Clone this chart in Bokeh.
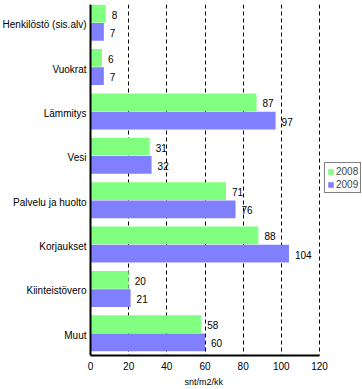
from bokeh.plotting import figure
from bokeh.models import (ColumnDataSource, Range1d, FixedTicker, Legend,
                          LegendItem, Span, Title)
from bokeh.core.properties import value
from bokeh.embed import file_html
from bokeh.resources import INLINE

categories = ["Henkilöstö (sis.alv)", "Vuokrat", "Lämmitys", "Vesi",
              "Palvelu ja huolto", "Korjaukset", "Kiinteistövero", "Muut"]
values_2008 = [8, 6, 87, 31, 71, 88, 20, 58]
values_2009 = [7, 7, 97, 32, 76, 104, 21, 60]
series_names = ["2008", "2009"]
x_ticks = [0, 20, 40, 60, 80, 100, 120]
x_label = "snt/m2/kk"

FONT = "Liberation Sans"
GREEN = "#80FF80"
BLUE = "#8080FF"

# layout (pixels)
FIG_W = 362
AX_LEFT = 90
AX_W = 229
TOP = 4
AX_BOTTOM = 355
BAND = AX_BOTTOM / 8.0
px_per_unit = AX_W / (x_ticks[-1] - x_ticks[0])
x_start = x_ticks[0] - AX_LEFT / px_per_unit
x_end = x_ticks[-1] + (FIG_W - AX_LEFT - AX_W) / px_per_unit
y_top = -0.5 + TOP / BAND

pos = list(range(len(categories)))
dodge = 0.205
bar_h = 0.40

src08 = ColumnDataSource(dict(y=[p_ - dodge for p_ in pos], v=values_2008,
                              t=[str(v) for v in values_2008]))
src09 = ColumnDataSource(dict(y=[p_ + dodge for p_ in pos], v=values_2009,
                              t=[str(v) for v in values_2009]))
cat_src = ColumnDataSource(dict(y=pos, x=[x_ticks[0]] * len(pos), name=categories))

p = figure(frame_width=FIG_W, frame_height=AX_BOTTOM - TOP, output_backend="svg",
           toolbar_location=None,
           x_range=Range1d(x_start, x_end),
           y_range=Range1d(len(categories) - 0.5, y_top),
           min_border_left=0, min_border_right=0, min_border_top=TOP,
           min_border_bottom=0)
p.outline_line_color = None
p.background_fill_color = "white"
p.border_fill_color = "white"

# grid
p.ygrid.grid_line_color = None
p.xgrid.grid_line_color = "black"
p.xgrid.grid_line_dash = "4 3"
p.xgrid.grid_line_width = 1

r08 = p.hbar(y="y", right="v", left=0, height=bar_h, source=src08,
             fill_color=GREEN, line_color=None)
r09 = p.hbar(y="y", right="v", left=0, height=bar_h, source=src09,
             fill_color=BLUE, line_color=None)

for s in (src08, src09):
    p.text(x="v", y="y", text="t", source=s, x_offset=6, y_offset=1,
           text_baseline="middle", text_align="left",
           text_font=value(FONT), text_font_size="10px", text_color="black")

# category labels left of the value axis
p.text(x="x", y="y", text="name", source=cat_src, x_offset=-4, y_offset=2,
       text_align="right", text_baseline="middle",
       text_font=value(FONT), text_font_size="10px", text_color="black")

# vertical axis line at 0
p.add_layout(Span(location=x_ticks[0], dimension="height",
                  line_color="black", line_width=2))

# x axis
p.xaxis.ticker = FixedTicker(ticks=x_ticks)
p.xaxis.bounds = (x_ticks[0], x_ticks[-1])
p.xaxis.axis_line_width = 2
p.xaxis.axis_line_color = "black"
p.xaxis.major_tick_line_color = None
p.xaxis.minor_tick_line_color = None
p.xaxis.major_tick_out = 0
p.xaxis.major_tick_in = 0
p.xaxis.major_label_text_font = FONT
p.xaxis.major_label_text_font_size = "10px"
p.xaxis.major_label_text_color = "black"
p.xaxis.major_label_standoff = 6

# axis title, centred under the 0..120 range
xt = Title(text=x_label, align="left", offset=184,
           text_font=FONT, text_font_size="9px", text_font_style="normal",
           text_color="black", standoff=4)
p.add_layout(xt, "below")

p.yaxis.visible = False

legend = Legend(items=[LegendItem(label=series_names[0], renderers=[r08]),
                       LegendItem(label=series_names[1], renderers=[r09])],
                location=(AX_LEFT + AX_W + 5, AX_BOTTOM - 193), orientation="vertical")
legend.border_line_color = "black"
legend.border_line_width = 1
legend.background_fill_color = "white"
legend.label_text_font = FONT
legend.label_text_font_size = "10px"
legend.glyph_width = 7
legend.glyph_height = 7
legend.label_standoff = 2
legend.label_height = 12
legend.spacing = 1
legend.padding = 2
legend.margin = 0
p.add_layout(legend, "center")

open("out.html", "w").write(file_html(p, INLINE))
